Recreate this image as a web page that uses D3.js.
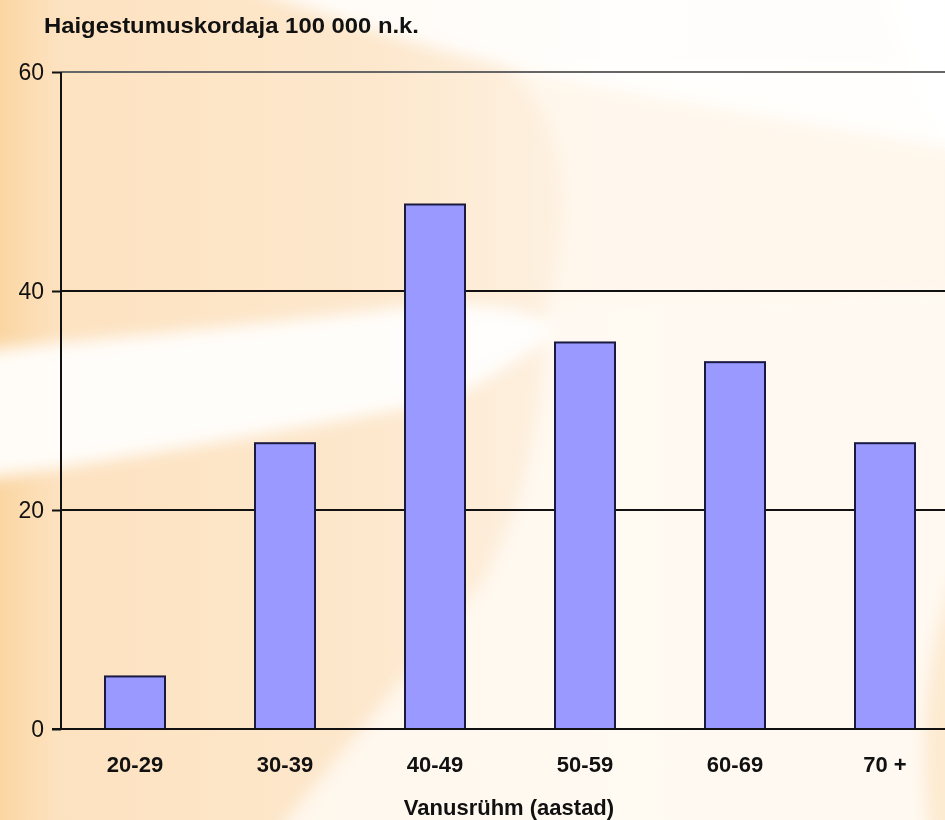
<!DOCTYPE html>
<html><head><meta charset="utf-8">
<script src="https://cdn.jsdelivr.net/npm/d3@7"></script>
<style>html,body{margin:0;padding:0;background:#fff;}svg{display:block;}</style>
</head><body>
<svg id="chart" width="945" height="820"></svg>
<script>
const categories = ["20-29", "30-39", "40-49", "50-59", "60-69", "70 +"];
const values = [4.8, 26.1, 47.9, 35.3, 33.5, 26.1];
const yTicks = [0, 20, 40, 60];
const titleText = "Haigestumuskordaja 100 000 n.k.";
const xTitleText = "Vanusrühm (aastad)";

const W = 945, H = 820;
const svg = d3.select("#chart");
const defs = svg.append("defs");

// background
const bg = defs.append("linearGradient").attr("id", "bgGrad").attr("x1", 0).attr("x2", 1).attr("y1", 0).attr("y2", 0);
[[0, "#fbd6a2"], [0.06, "#fde2c0"], [0.4, "#fde8cd"], [0.65, "#fef3e6"], [1, "#fdf0e1"]].forEach(s =>
  bg.append("stop").attr("offset", s[0]).attr("stop-color", s[1]));
svg.append("rect").attr("width", W).attr("height", H).attr("fill", "url(#bgGrad)");
const blur = defs.append("filter").attr("id", "blur").attr("x", "-20%").attr("y", "-20%").attr("width", "140%").attr("height", "140%");
blur.append("feGaussianBlur").attr("stdDeviation", 8);
const bgG = svg.append("g").attr("filter", "url(#blur)");
bgG.append("path").attr("d", "M505,70 C565,110 575,210 548,300 L960,300 L960,70 Z")
  .attr("fill", "#fff8ef").attr("opacity", 0.75);
bgG.append("path").attr("d", "M230,-20 L960,-20 L960,150 C820,125 700,105 560,78 C450,55 330,20 230,-20 Z")
  .attr("fill", "#ffffff").attr("opacity", 0.85);
bgG.append("path").attr("d", "M-20,350 C150,335 300,320 420,305 C480,300 540,310 560,330 C520,360 470,395 420,406 C300,428 150,455 -20,480 Z")
  .attr("fill", "#ffffff").attr("opacity", 0.9);
bgG.append("path").attr("d", "M548,300 L960,290 L960,840 L270,840 L480,585 C530,500 545,400 548,300 Z")
  .attr("fill", "#fffaf3").attr("opacity", 0.85);
bgG.append("path").attr("d", "M880,-20 L960,-20 L960,160 C930,120 900,60 880,-20 Z")
  .attr("fill", "#ffffff").attr("opacity", 0.8);
bgG.append("path").attr("d", "M960,560 C930,640 915,720 930,840 L960,840 Z")
  .attr("fill", "#fde6c8").attr("opacity", 0.8);

// scales
const x = d3.scaleBand().domain(categories).range([60, 960]).paddingInner(0.6).paddingOuter(0.3);
const y = d3.scaleLinear().domain([0, 60]).range([729, 72]);

// gridlines
svg.append("g").selectAll("line").data(yTicks.filter(d => d > 0)).join("line")
  .attr("x1", 61).attr("x2", W).attr("y1", d => y(d)).attr("y2", d => y(d))
  .attr("stroke", d => d === 60 ? "#666" : "#111").attr("stroke-width", 2);

// bars
svg.append("g").selectAll("rect").data(values).join("rect")
  .attr("x", (d, i) => x(categories[i]))
  .attr("y", d => y(d))
  .attr("width", x.bandwidth())
  .attr("height", d => y(0) - y(d))
  .attr("fill", "#9999ff").attr("stroke", "#1a1a40").attr("stroke-width", 2);

// y axis
const yAxis = d3.axisLeft(y).tickValues(yTicks).tickSize(9).tickPadding(8).tickFormat(d3.format("d"));
const ya = svg.append("g").attr("transform", "translate(61,0)").call(yAxis);
ya.select(".domain").remove();
ya.selectAll(".tick line").attr("stroke", "#111").attr("stroke-width", 2);
ya.selectAll(".tick text").attr("font-family", "Liberation Sans, Arial, sans-serif").attr("font-size", 23).attr("fill", "#111");
svg.append("line").attr("x1", 61).attr("x2", 61).attr("y1", y(60)).attr("y2", y(0)).attr("stroke", "#111").attr("stroke-width", 2);

// x axis
const xAxis = d3.axisBottom(x).tickSize(0).tickPadding(0);
const xa = svg.append("g").attr("transform", "translate(0,729)").call(xAxis);
xa.select(".domain").remove();
xa.selectAll(".tick text").attr("dy", null).attr("y", 43)
  .attr("font-family", "Liberation Sans, Arial, sans-serif").attr("font-size", 22).attr("font-weight", "bold").attr("fill", "#111");
svg.append("line").attr("x1", 52).attr("x2", W).attr("y1", y(0)).attr("y2", y(0)).attr("stroke", "#111").attr("stroke-width", 2);

// titles
svg.append("text").attr("x", 44).attr("y", 33).text(titleText)
  .attr("font-family", "Liberation Sans, Arial, sans-serif").attr("font-size", 22).attr("font-weight", "bold").attr("fill", "#111")
  .attr("textLength", 375).attr("lengthAdjust", "spacingAndGlyphs");
svg.append("text").attr("x", 509).attr("y", 815).attr("text-anchor", "middle").text(xTitleText)
  .attr("font-family", "Liberation Sans, Arial, sans-serif").attr("font-size", 22).attr("font-weight", "bold").attr("fill", "#111");
</script>
</body></html>
